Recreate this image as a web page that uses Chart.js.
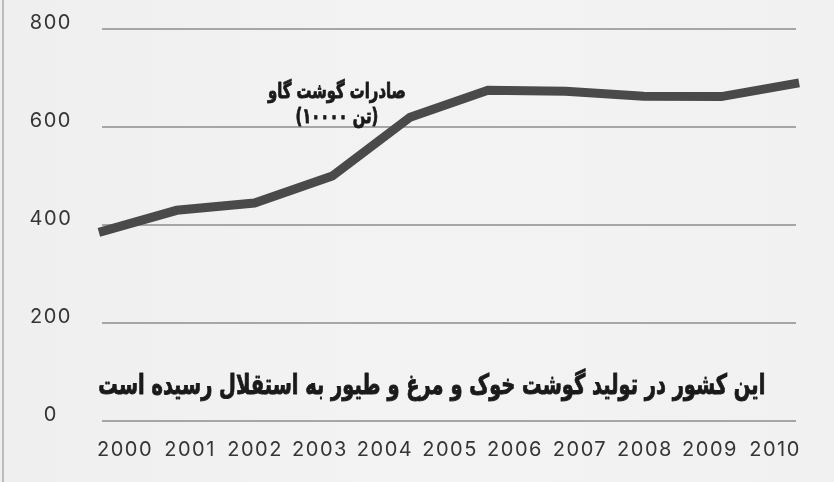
<!DOCTYPE html>
<html><head><meta charset="utf-8">
<script src="https://cdn.jsdelivr.net/npm/chart.js@4.4.1/dist/chart.umd.min.js"></script>
<style>
html,body{margin:0;padding:0;background:#f1f1f1;overflow:hidden;}
#wrap{position:relative;width:834px;height:482px;background:linear-gradient(90deg,#efefef,#f3f3f3 50%,#f1f1f1);}
#edge{position:absolute;left:2px;top:0;width:2px;height:482px;background:#bcbcbc;}
canvas{position:absolute;left:0;top:0;}
</style></head><body>
<div id="wrap"><canvas id="c" width="834" height="482"></canvas><div id="edge"></div></div>
<script>
// ---- data ----
const years = ['2000','2001','2002','2003','2004','2005','2006','2007','2008','2009','2010'];
const yTickValues = [0, 200, 400, 600, 800];
const beefExports = [385, 430, 445, 500, 620, 675, 673, 663, 662, 690];
const seriesName = 'صادرات گوشت گاو';
// unit line, pieces in the visual left-to-right order of the picture
const seriesUnitParts = ['(', '۱۰۰۰۰', ' ', 'تن', ')'];
const caption = 'این کشور در تولید گوشت خوک و مرغ و طیور به استقلال رسیده است';

const numFont = 'Inter, "DejaVu Sans", sans-serif';
const faFont = '"DejaVu Sans", sans-serif';

const spacingPlugin = {
  id: 'spacing',
  beforeInit(chart) { chart.ctx.letterSpacing = '1.5px'; },
  beforeDraw(chart) { chart.ctx.letterSpacing = '1.5px'; }
};

const textPlugin = {
  id: 'texts',
  afterDatasetsDraw(chart) {
    const ctx = chart.ctx;
    const xs = chart.scales.x, ys = chart.scales.y;
    const setup = (size) => {
      ctx.letterSpacing = '0px';
      ctx.font = 'bold ' + size + 'px ' + faFont;
      ctx.textBaseline = 'middle';
      ctx.fillStyle = '#1a1a1a';
      ctx.strokeStyle = '#1a1a1a';
      ctx.lineWidth = 0.9;
      ctx.lineJoin = 'round';
    };
    const drawFit = (txt, cx, cy, size, targetW) => {
      ctx.save();
      setup(size);
      ctx.direction = 'rtl';
      ctx.textAlign = 'center';
      const w = ctx.measureText(txt).width;
      const sx = targetW / w;
      ctx.translate(cx, cy);
      ctx.scale(sx, 1);
      ctx.fillText(txt, 0, 0);
      ctx.strokeText(txt, 0, 0);
      ctx.restore();
      return sx;
    };
    const cxLabel = xs.getPixelForValue(3.26);
    const sx = drawFit(seriesName, cxLabel, ys.getPixelForValue(670), 21, 138);
    // unit line drawn piece by piece, left to right
    ctx.save();
    setup(21);
    ctx.direction = 'ltr';
    ctx.textAlign = 'left';
    const widths = seriesUnitParts.map(p => ctx.measureText(p).width);
    const total = widths.reduce((a, b) => a + b, 0);
    ctx.translate(cxLabel, ys.getPixelForValue(620));
    ctx.scale(sx, 1);
    let x = -total / 2;
    seriesUnitParts.forEach((p, i) => {
      ctx.fillText(p, x, 0);
      ctx.strokeText(p, x, 0);
      x += widths[i];
    });
    ctx.restore();
    drawFit(caption, xs.getPixelForValue(4.72), ys.getPixelForValue(70), 28, 667);
  }
};

new Chart(document.getElementById('c'), {
  type: 'line',
  data: {
    datasets: [{
      label: seriesName,
      data: beefExports.map((v, i) => ({ x: i, y: v })),
      xAxisID: 'xLine',
      yAxisID: 'y',
      borderColor: '#4a4a4a',
      borderWidth: 9,
      pointRadius: 0,
      tension: 0,
      borderCapStyle: 'butt',
      borderJoinStyle: 'miter',
      clip: false,
      fill: false
    }]
  },
  options: {
    responsive: false,
    devicePixelRatio: 1,
    animation: false,
    events: [],
    layout: { padding: { top: 29, right: 38, left: 0, bottom: 0 } },
    plugins: { legend: { display: false }, tooltip: { enabled: false }, title: { display: false } },
    scales: {
      xLine: {
        type: 'linear', display: false, position: 'bottom',
        min: 0.04, max: 8.96
      },
      x: {
        type: 'linear', position: 'bottom',
        min: -0.354, max: 10.323,
        grid: { display: false, drawTicks: false },
        border: { display: false },
        afterFit(s) { s.height = 61; s.paddingLeft = 0; s.paddingRight = 0; },
        ticks: {
          stepSize: 1, includeBounds: false, autoSkip: false, maxRotation: 0,
          padding: 17,
          color: '#353535',
          font: { family: numFont, size: 20, weight: '400' },
          callback: (v) => years[v] !== undefined ? years[v] : ''
        }
      },
      y: {
        type: 'linear', position: 'left',
        min: yTickValues[0], max: yTickValues[yTickValues.length - 1],
        afterFit(s) { s.width = 102; s.paddingTop = 0; s.paddingBottom = 0; },
        afterBuildTicks(s) { s.ticks = yTickValues.map(v => ({ value: v })); },
        grid: { color: '#a6a6a6', lineWidth: 2, drawTicks: false },
        border: { display: false },
        ticks: {
          padding: 32, crossAlign: 'center', labelOffset: -6,
          color: '#353535',
          font: { family: numFont, size: 20, weight: '400' }
        }
      }
    }
  },
  plugins: [spacingPlugin, textPlugin]
});
</script>
</body></html>
